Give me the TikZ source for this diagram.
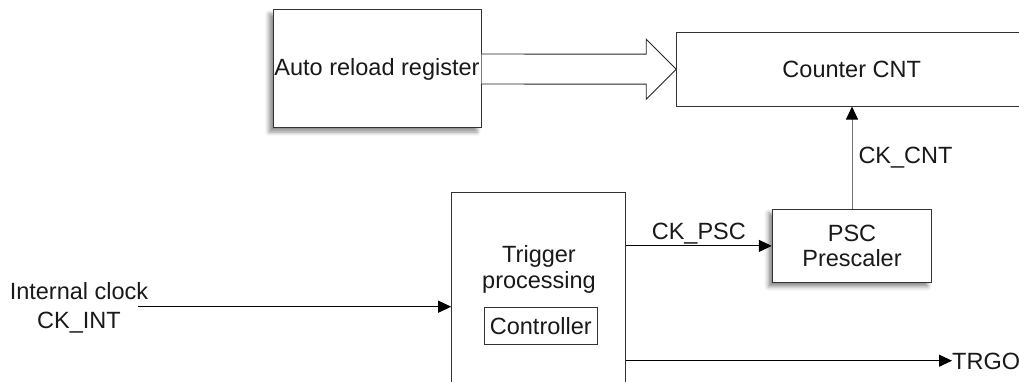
\documentclass[tikz,border=0pt]{standalone}
\usepackage{fontspec}
\setmainfont{Liberation Sans}
\usetikzlibrary{arrows.meta,calc,shadows.blur}
\begin{document}
\begin{tikzpicture}[x=1pt,y=-1pt,
  every node/.style={font=\fontsize{23.5}{25.5}\selectfont, text=black!90},
  blk/.style={draw=black!80, line width=1pt, fill=white, inner sep=0pt, align=center},
  shad/.style={blur shadow={shadow xshift=-4pt, shadow yshift=-4pt, shadow blur radius=4pt, shadow opacity=45}},
  sig/.style={line width=1pt, -{Triangle[length=13pt,width=12pt,color=black]}},
  bigarr/.style={draw=black!85, line width=0.9pt, fill=white},
]
\useasboundingbox (0,0) rectangle (1019,382);
\clip (0,0) rectangle (1019,382);

% blocks
\node[blk, shad, minimum width=208pt, minimum height=118pt] (arr) at (377,69) {Auto reload register};
\node[blk, minimum width=350pt, minimum height=73.7pt] (cnt) at (851.7,69.2) {Counter CNT};
\node[blk, shad, minimum width=159.4pt, minimum height=73.7pt] (psc) at (852,245.9) {PSC\\Prescaler};
\node[blk, minimum width=173.6pt, minimum height=240pt, anchor=north] (trig) at (538.5,192.3) {};
\node[align=center, inner sep=0pt] (trigtxt) at (539,269.5) {Trigger\\processing};
\node[blk, line width=0.8pt, minimum width=113pt, minimum height=36.6pt] (ctl) at (540.8,326) {Controller};

% inputs / outputs
\node[align=center, inner sep=0pt] (clk) at (79,308) {Internal clock\\[3pt]CK\_INT};
\coordinate (clkin) at (138,306.7);
\node[anchor=west, inner sep=0pt] (trgo) at (952,361.5) {TRGO};

% hollow bus arrow
\draw[bigarr] ($(arr.east)+(0,-15)$) -- ($(cnt.west)+(-30,-15)$) -- ($(cnt.west)+(-30,-30)$)
  -- (cnt.west) -- ($(cnt.west)+(-30,30)$) -- ($(cnt.west)+(-30,15)$) -- ($(arr.east)+(0,15)$);

% signals
\draw[sig] (clkin) -- (clkin -| trig.west);
\draw[sig] (psc.west -| trig.east) -- (psc.west)
  node[midway, anchor=base, inner sep=0pt, yshift=6.7pt] (ckpsc) {CK\_PSC};
\draw[sig, draw=black!55] (psc.north) -- (psc.north |- cnt.south)
  node[midway, anchor=west, inner sep=0pt, xshift=6pt] (ckcnt) {CK\_CNT};
\draw[sig] (trgo.west -| trig.east) ++(0,-0.8) -- ($(trgo.west)+(0,-0.8)$);
\end{tikzpicture}
\end{document}
